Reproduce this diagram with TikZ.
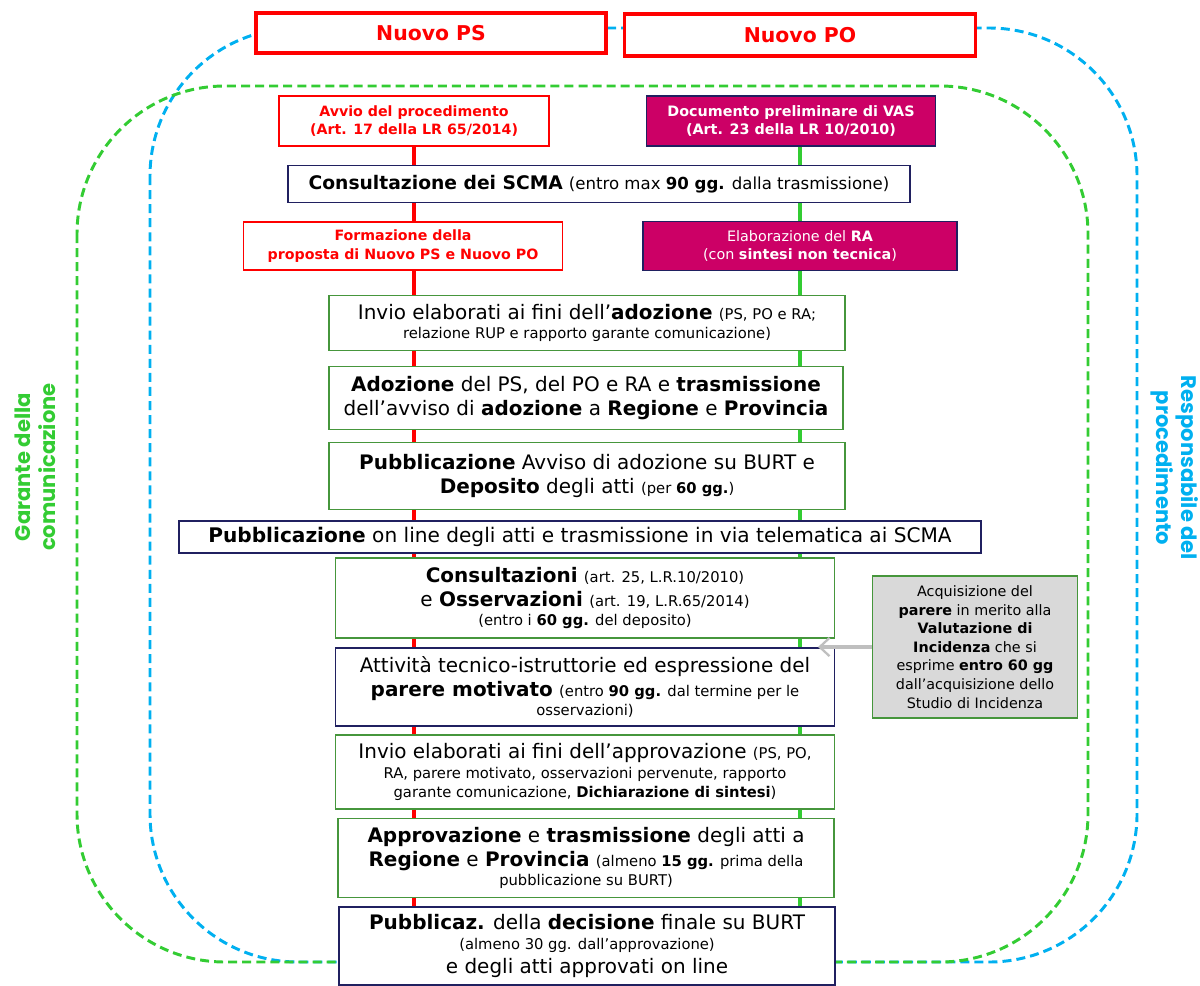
\documentclass[tikz,border=0pt]{standalone}
\usepackage{fontspec}
\setmainfont{DejaVu Sans}
\newfontfamily\sidefont{Poppins}
\usepackage{xcolor}
\usepackage{tikz}
\usetikzlibrary{arrows.meta, positioning, backgrounds}

\definecolor{psred}{RGB}{255,0,0}
\definecolor{vasmag}{RGB}{204,0,102}
\definecolor{lineg}{RGB}{51,204,51}
\definecolor{boxg}{RGB}{70,150,60}
\definecolor{navy}{RGB}{32,32,96}
\definecolor{skyb}{RGB}{0,176,240}
\definecolor{incgrey}{RGB}{217,217,217}
\definecolor{arrowgrey}{RGB}{191,191,191}

\newcommand{\smtxt}{\fontsize{10.5}{13}\selectfont}

\begin{document}
\begin{tikzpicture}[
    x=0.025cm, y=-0.025cm,
    >=Stealth,
    basebox/.style={draw, fill=white, line width=0.9pt, align=center, inner sep=0pt, font=\fontsize{14.2}{17}\selectfont},
    gbox/.style={basebox, draw=boxg},
    nbox/.style={basebox, draw=navy},
    psbox/.style={basebox, draw=psred, text=psred, font=\bfseries\fontsize{10.1}{13}\selectfont},
    vasbox/.style={basebox, draw=navy, fill=vasmag, text=white, font=\fontsize{10.2}{13}\selectfont},
    headbox/.style={basebox, draw=psred, line width=2.6pt, text=psred, font=\bfseries\fontsize{14.5}{17}\selectfont},
    incbox/.style={basebox, draw=boxg, fill=incgrey, font=\fontsize{10.2}{13.2}\selectfont},
    sz/.style 2 args={minimum width=#1*0.025cm, minimum height=#2*0.025cm},
    dashframe/.style={line width=2.1pt, dash pattern=on 6.4pt off 3.6pt, rounded corners=3.7cm},
    stemline/.style={line width=2.8pt},
    sidelab/.style={font=\sidefont\bfseries\fontsize{15}{17.8}\selectfont, align=center},
    incarrow/.style={-{Straight Barb[length=7pt, width=13pt, line width=1.6pt]}, line width=3.5pt, draw=arrowgrey},
  ]
  \useasboundingbox (0,0) rectangle (1200,985);
  % titles
  \node[headbox, sz={350}{40}] (nps) at (431,33) {Nuovo PS};
  \node[headbox, sz={351}{42}] (npo) at (800,35) {Nuovo PO};
  % start of the procedure
  \node[psbox, sz={270}{50}] (avvio) at (414,121) {Avvio del procedimento\\(Art. 17 della LR 65/2014)};
  \node[vasbox, sz={289}{50}] (docvas) at (791,121) {\textbf{Documento preliminare di VAS}\\\textbf{(Art. 23 della LR 10/2010)}};
  \node[nbox, sz={622}{37}, font=\fontsize{13.3}{15}\selectfont] (scma) at (599,184) {\textbf{Consultazione dei SCMA} {\fontsize{11.8}{13}\selectfont(entro max \textbf{90 gg.} dalla trasmissione)}};
  \node[psbox, sz={319}{48}] (formaz) at (403,246) {Formazione della\\proposta di Nuovo PS e Nuovo PO};
  \node[vasbox, sz={314}{49}] (elabra) at (800,246) {Elaborazione del \textbf{RA}\\(con \textbf{sintesi non tecnica})};
  % adoption
  \node[gbox, sz={516}{55}] (invad) at (587,323) {Invio elaborati ai fini dell’\textbf{adozione} {\smtxt(PS, PO e RA;}\\[-3pt]{\smtxt relazione RUP e rapporto garante comunicazione)}};
  \node[gbox, sz={514}{63}] (adoz) at (586,398) {\textbf{Adozione} del PS, del PO e RA e \textbf{trasmissione}\\dell’avviso di \textbf{adozione} a \textbf{Regione} e \textbf{Provincia}};
  \node[gbox, sz={516}{67}] (pubav) at (587,476) {\textbf{Pubblicazione} Avviso di adozione su BURT e\\\textbf{Deposito} degli atti {\smtxt(per \textbf{60 gg.})}};
  \node[nbox, sz={802}{32}, font=\fontsize{14.3}{16}\selectfont] (online) at (580,537) {\textbf{Pubblicazione} on line degli atti e trasmissione in via telematica ai SCMA};
  % consultation
  \node[gbox, sz={499}{80}] (consos) at (585,598) {\textbf{Consultazioni} {\smtxt(art. 25, L.R.10/2010)}\\e \textbf{Osservazioni} {\smtxt(art. 19, L.R.65/2014)}\\[-3pt]{\smtxt(entro i \textbf{60 gg.} del deposito)}};
  \node[nbox, sz={499}{78}] (parere) at (585,687) {Attività tecnico-istruttorie ed espressione del\\\textbf{parere motivato} {\smtxt(entro \textbf{90 gg.} dal termine per le}\\[-3pt]{\smtxt osservazioni)}};
  % approval
  \node[gbox, sz={499}{74}] (invap) at (585,772) {Invio elaborati ai fini dell’approvazione {\smtxt(PS, PO,}\\[-3pt]{\smtxt RA, parere motivato, osservazioni pervenute, rapporto}\\[-3pt]{\smtxt garante comunicazione, \textbf{Dichiarazione di sintesi})}};
  \node[gbox, sz={496}{79}] (approv) at (586,858) {\textbf{Approvazione} e \textbf{trasmissione} degli atti a\\\textbf{Regione} e \textbf{Provincia} {\smtxt(almeno \textbf{15 gg.} prima della}\\[-3pt]{\smtxt pubblicazione su BURT)}};
  \node[nbox, sz={496}{78}] (finale) at (587,946) {\textbf{Pubblicaz.} della \textbf{decisione} finale su BURT\\[-3pt]{\smtxt(almeno 30 gg. dall’approvazione)}\\e degli atti approvati on line};
  % valutazione di incidenza
  \node[incbox, sz={205}{142}] (vinca) at (975,647) {Acquisizione del\\\textbf{parere} in merito alla\\\textbf{Valutazione di}\\\textbf{Incidenza} che si\\esprime \textbf{entro 60 gg}\\dall’acquisizione dello\\Studio di Incidenza};
  \coordinate (vtip) at (818,647);
  \draw[incarrow] (vinca.west) -- (vtip);
  % side labels
  \node[sidelab, text=lineg, rotate=90] (garante) at (35,467) {Garante della\\comunicazione};
  \node[sidelab, text=skyb, rotate=-90] (respons) at (1175,468) {Responsabile del\\procedimento};
  % frames and stems
  \begin{scope}[on background layer]
    \draw[dashframe, skyb] (150,28) rectangle (1137,962);
    \draw[dashframe, lineg] (77,86) rectangle (1088,962);
    \draw[stemline, psred] (avvio.south) -- (avvio.south |- finale.north);
    \coordinate (gtop) at (800,146);
    \draw[stemline, lineg] (gtop) -- (gtop |- finale.north);
  \end{scope}
\end{tikzpicture}
\end{document}
